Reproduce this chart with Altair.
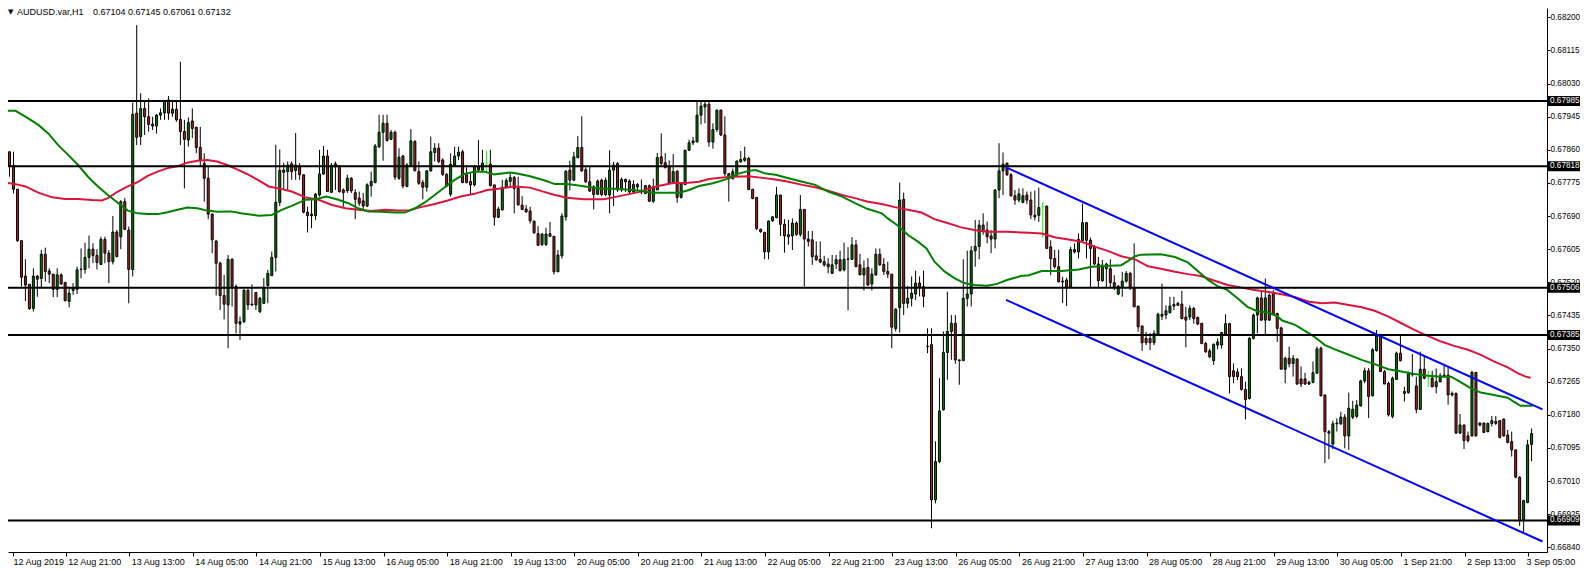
import altair as alt
import pandas as pd

SYMBOL = "AUDUSD.var,H1"

# Hourly candles (open, high, low, close), in order
SEG1 = [
    (.67880, .67888, .67850, .67855), (.67855, .67855, .67791, .67819), (.67819, .67855, .67748, .67759),
    (.67759, .67759, .67624, .67627), (.67627, .67627, .67509, .67533), (.67536, .67579, .67472, .67513),
    (.67515, .67515, .67449, .67453), (.67453, .67556, .67445, .67536), (.67536, .67539, .67483, .67528),
    (.67530, .67603, .67505, .67592), (.67592, .67609, .67522, .67548), (.67549, .67556, .67518, .67541),
    (.67541, .67541, .67482, .67502), (.67502, .67556, .67482, .67539), (.67539, .67543, .67513, .67516),
    (.67520, .67520, .67471, .67473), (.67471, .67509, .67456, .67492), (.67499, .67518, .67488, .67505),
    (.67502, .67560, .67490, .67552), (.67554, .67607, .67530, .67553), (.67553, .67622, .67542, .67584),
    (.67584, .67640, .67556, .67605), (.67605, .67620, .67569, .67589), (.67589, .67605, .67553, .67571),
    (.67566, .67637, .67565, .67630), (.67630, .67637, .67569, .67595), (.67595, .67603, .67518, .67573),
    (.67573, .67690, .67566, .67649), (.67649, .67654, .67584, .67586), (.67637, .67731, .67605, .67727),
    (.67727, .67736, .67654, .67656), (.67654, .67663, .67466, .67553), (.67553, .67981, .67535, .67951),
    (.67954, .68180, .67872, .67892), (.67894, .68005, .67872, .67966), (.67966, .67984, .67898, .67945),
    (.67945, .67992, .67907, .67925), (.67926, .67945, .67911, .67921), (.67921, .67952, .67902, .67949),
    (.67949, .67966, .67937, .67955), (.67955, .67988, .67937, .67984), (.67988, .67998, .67937, .67954),
    (.67954, .67988, .67945, .67964), (.67964, .67988, .67932, .67937), (.67938, .68086, .67872, .67907),
    (.67907, .67937, .67761, .67887), (.67885, .67943, .67868, .67930), (.67934, .67966, .67890, .67915),
    (.67918, .67919, .67851, .67866), (.67866, .67919, .67817, .67834), (.67825, .67851, .67727, .67787),
    (.67787, .67817, .67682, .67695), (.67695, .67697, .67595, .67629), (.67626, .67629, .67486, .67569),
    (.67569, .67573, .67449, .67486), (.67486, .67539, .67425, .67464), (.67462, .67590, .67351, .67579),
    (.67579, .67582, .67458, .67509), (.67509, .67515, .67389, .67415), (.67413, .67432, .67372, .67419),
    (.67419, .67502, .67415, .67500), (.67500, .67502, .67449, .67462), (.67462, .67515, .67459, .67464),
    (.67494, .67494, .67449, .67462),
]
SEG2 = [
    (.67445, .67483, .67441, .67479), (.67466, .67531, .67466, .67507), (.67512, .67552, .67466, .67543),
    (.67537, .67599, .67537, .67584), (.67584, .67873, .67548, .67725), (.67725, .67861, .67716, .67807),
    (.67808, .67827, .67759, .67802), (.67804, .67830, .67757, .67821), (.67824, .67830, .67783, .67804),
    (.67807, .67903, .67783, .67821), (.67817, .67826, .67783, .67796), (.67796, .67796, .67697, .67700),
    (.67700, .67714, .67648, .67691), (.67695, .67731, .67659, .67691), (.67691, .67749, .67680, .67746),
    (.67744, .67860, .67740, .67798), (.67798, .67870, .67796, .67844), (.67844, .67860, .67753, .67753),
    (.67751, .67826, .67749, .67820), (.67816, .67830, .67757, .67824), (.67819, .67821, .67750, .67753),
    (.67757, .67761, .67714, .67750), (.67755, .67796, .67749, .67787), (.67787, .67790, .67749, .67755),
    (.67750, .67759, .67682, .67733), (.67736, .67753, .67716, .67723), (.67729, .67749, .67706, .67716),
    (.67716, .67774, .67713, .67770), (.67768, .67804, .67740, .67779), (.67776, .67875, .67774, .67870),
    (.67868, .67950, .67864, .67905), (.67905, .67950, .67832, .67928), (.67928, .67950, .67881, .67884),
    (.67887, .67911, .67885, .67905), (.67905, .67909, .67783, .67790), (.67787, .67864, .67783, .67841),
    (.67844, .67847, .67761, .67767), (.67766, .67826, .67764, .67821), (.67819, .67913, .67817, .67883),
    (.67881, .67885, .67806, .67806), (.67804, .67830, .67770, .67774), (.67776, .67783, .67733, .67764),
    (.67764, .67808, .67753, .67806), (.67806, .67894, .67804, .67855), (.67853, .67877, .67830, .67864),
    (.67864, .67877, .67826, .67830), (.67834, .67838, .67793, .67797), (.67797, .67800, .67764, .67767),
    (.67746, .67851, .67740, .67823), (.67821, .67868, .67817, .67844), (.67844, .67868, .67834, .67854),
    (.67855, .67860, .67774, .67776), (.67796, .67821, .67774, .67776), (.67779, .67800, .67744, .67770),
    (.67770, .67821, .67766, .67817), (.67817, .67885, .67804, .67808), (.67808, .67860, .67804, .67826),
    (.67826, .67858, .67804, .67826), (.67823, .67860, .67766, .67768), (.67770, .67770, .67665, .67687),
    (.67687, .67714, .67685, .67708), (.67706, .67783, .67704, .67764), (.67764, .67787, .67761, .67781),
    (.67779, .67800, .67766, .67789), (.67789, .67793, .67697, .67761), (.67761, .67791, .67716, .67719),
]
SEG3 = [
    (.67718, .67741, .67705, .67707), (.67708, .67718, .67698, .67701), (.67703, .67714, .67671, .67678),
    (.67677, .67678, .67645, .67647), (.67645, .67664, .67613, .67615), (.67617, .67645, .67613, .67644),
    (.67617, .67660, .67613, .67644), (.67645, .67675, .67637, .67638), (.67638, .67638, .67540, .67547),
    (.67547, .67603, .67547, .67590), (.67588, .67697, .67581, .67690), (.67688, .67808, .67678, .67805),
    (.67808, .67832, .67756, .67782), (.67782, .67855, .67780, .67842), (.67840, .67895, .67838, .67866),
    (.67866, .67946, .67804, .67806), (.67809, .67815, .67775, .67778), (.67778, .67816, .67752, .67754),
    (.67765, .67769, .67707, .67745), (.67746, .67784, .67744, .67780), (.67782, .67786, .67741, .67745),
    (.67745, .67789, .67741, .67782), (.67744, .67859, .67697, .67808), (.67808, .67829, .67716, .67821),
    (.67825, .67829, .67752, .67757), (.67757, .67789, .67752, .67784), (.67784, .67786, .67752, .67778),
    (.67780, .67784, .67748, .67752), (.67752, .67782, .67748, .67771), (.67771, .67775, .67757, .67765),
    (.67752, .67784, .67746, .67753), (.67748, .67769, .67746, .67768), (.67768, .67771, .67727, .67728),
    (.67728, .67786, .67724, .67765), (.67757, .67852, .67757, .67840), (.67842, .67902, .67821, .67825),
    (.67827, .67851, .67812, .67815), (.67816, .67833, .67775, .67775), (.67774, .67849, .67772, .67804),
    (.67805, .67808, .67724, .67738), (.67738, .67772, .67735, .67772), (.67771, .67859, .67769, .67859),
    (.67859, .67886, .67857, .67878), (.67878, .67893, .67872, .67883), (.67880, .67983, .67880, .67949),
    (.67949, .67983, .67925, .67972), (.67970, .67983, .67928, .67977), (.67977, .67983, .67868, .67880),
    (.67880, .67928, .67863, .67912), (.67912, .67963, .67906, .67962), (.67962, .67963, .67895, .67898),
    (.67898, .67946, .67792, .67799), (.67799, .67799, .67727, .67786), (.67786, .67812, .67784, .67804),
    (.67795, .67833, .67791, .67831), (.67829, .67857, .67827, .67835), (.67833, .67868, .67829, .67839),
    (.67838, .67842, .67757, .67758), (.67759, .67759, .67733, .67735), (.67738, .67739, .67654, .67658),
    (.67656, .67658, .67647, .67650), (.67648, .67650, .67579, .67598), (.67598, .67679, .67579, .67677),
    (.67678, .67690, .67675, .67688),
]
SEG4 = [
    (.67686, .67765, .67684, .67744), (.67744, .67744, .67639, .67669), (.67669, .67682, .67596, .67639),
    (.67642, .67680, .67616, .67637), (.67639, .67684, .67603, .67672), (.67672, .67676, .67639, .67643),
    (.67643, .67744, .67637, .67707), (.67707, .67707, .67509, .67631), (.67631, .67652, .67612, .67625),
    (.67629, .67652, .67565, .67586), (.67588, .67625, .67575, .67578), (.67579, .67625, .67569, .67572),
    (.67565, .67588, .67560, .67573), (.67567, .67582, .67543, .67560), (.67543, .67590, .67542, .67565),
    (.67567, .67590, .67554, .67578), (.67578, .67601, .67548, .67550), (.67552, .67622, .67548, .67579),
    (.67579, .67610, .67448, .67580), (.67579, .67636, .67577, .67616), (.67616, .67629, .67560, .67560),
    (.67565, .67593, .67539, .67539), (.67539, .67576, .67499, .67556), (.67558, .67582, .67511, .67513),
    (.67516, .67556, .67499, .67541), (.67539, .67607, .67537, .67592), (.67592, .67607, .67562, .67565),
    (.67566, .67582, .67539, .67548), (.67548, .67573, .67531, .67541), (.67541, .67541, .67351, .67405),
    (.67401, .67454, .67394, .67451), (.67455, .67776, .67391, .67731), (.67733, .67750, .67436, .67466),
    (.67466, .67511, .67454, .67479), (.67479, .67535, .67458, .67492), (.67490, .67550, .67475, .67518),
    (.67518, .67535, .67484, .67509), (.67509, .67550, .67456, .67484), (.67356, .67402, .67338, .67355),
    (.67360, .67402, .66889, .66962), (.66962, .67112, .66953, .67060), (.67060, .67274, .67056, .67190),
    (.67193, .67394, .67191, .67340), (.67340, .67496, .67270, .67394), (.67394, .67436, .67321, .67415),
    (.67415, .67436, .67311, .67321), (.67321, .67321, .67257, .67319), (.67319, .67579, .67319, .67479),
    (.67479, .67601, .67458, .67490), (.67490, .67613, .67458, .67601), (.67601, .67680, .67560, .67612),
    (.67612, .67680, .67579, .67667), (.67667, .67697, .67642, .67650), (.67654, .67676, .67620, .67637),
    (.67639, .67654, .67595, .67631), (.67631, .67759, .67607, .67757), (.67757, .67877, .67736, .67806),
    (.67806, .67853, .67744, .67823), (.67826, .67826, .67793, .67796), (.67796, .67800, .67740, .67742),
    (.67742, .67757, .67719, .67731), (.67731, .67761, .67725, .67747), (.67725, .67761, .67723, .67742),
    (.67744, .67753, .67721, .67731),
]
SEG5 = [
    (.67731, .67753, .67682, .67693), (.67692, .67756, .67679, .67688), (.67692, .67763, .67675, .67712),
    (.67714, .67726, .67635, .67714), (.67715, .67718, .67607, .67607), (.67611, .67628, .67538, .67581),
    (.67581, .67603, .67555, .67560), (.67560, .67604, .67521, .67521), (.67523, .67534, .67467, .67521),
    (.67526, .67532, .67459, .67508), (.67508, .67611, .67507, .67604), (.67604, .67620, .67594, .67598),
    (.67598, .67645, .67581, .67630), (.67627, .67722, .67624, .67673), (.67673, .67675, .67581, .67628),
    (.67628, .67635, .67508, .67607), (.67611, .67615, .67564, .67567), (.67567, .67585, .67507, .67524),
    (.67524, .67577, .67521, .67564), (.67555, .67570, .67508, .67567), (.67555, .67579, .67508, .67519),
    (.67519, .67538, .67500, .67507), (.67490, .67513, .67487, .67510), (.67507, .67547, .67483, .67523),
    (.67523, .67549, .67519, .67543), (.67543, .67547, .67500, .67508), (.67507, .67620, .67457, .67457),
    (.67459, .67459, .67393, .67406), (.67408, .67408, .67344, .67365), (.67376, .67393, .67359, .67365),
    (.67376, .67390, .67346, .67365), (.67365, .67397, .67359, .67389), (.67387, .67442, .67385, .67438),
    (.67433, .67517, .67423, .67438), (.67436, .67461, .67425, .67447), (.67442, .67483, .67440, .67459),
    (.67459, .67483, .67449, .67463), (.67461, .67470, .67459, .67466), (.67464, .67498, .67425, .67427),
    (.67431, .67457, .67353, .67423), (.67431, .67461, .67423, .67453), (.67453, .67457, .67414, .67427),
    (.67430, .67432, .67410, .67413), (.67415, .67415, .67361, .67363), (.67363, .67367, .67339, .67342),
    (.67344, .67350, .67325, .67329), (.67319, .67363, .67308, .67361), (.67359, .67376, .67348, .67367),
    (.67359, .67393, .67350, .67391), (.67387, .67438, .67385, .67414), (.67414, .67416, .67235, .67278),
    (.67293, .67312, .67261, .67278), (.67290, .67299, .67269, .67278), (.67278, .67299, .67242, .67245),
    (.67245, .67265, .67168, .67219), (.67222, .67380, .67219, .67376), (.67376, .67440, .67373, .67436),
    (.67436, .67483, .67389, .67480), (.67480, .67500, .67421, .67423), (.67423, .67530, .67387, .67480),
    (.67487, .67491, .67421, .67423), (.67491, .67500, .67438, .67438), (.67440, .67442, .67367, .67402),
    (.67403, .67406, .67297, .67297),
]
SEG6 = [
    (.67297, .67329, .67261, .67325), (.67325, .67355, .67302, .67311), (.67312, .67334, .67278, .67325),
    (.67323, .67325, .67257, .67259), (.67272, .67304, .67251, .67259), (.67272, .67288, .67257, .67259),
    (.67259, .67268, .67257, .67263), (.67263, .67317, .67261, .67288), (.67287, .67355, .67285, .67349),
    (.67351, .67355, .67227, .67229), (.67231, .67231, .67056, .67137), (.67137, .67141, .67066, .67133),
    (.67105, .67165, .67092, .67157), (.67157, .67171, .67137, .67159), (.67157, .67188, .67154, .67174),
    (.67174, .67182, .67094, .67126), (.67126, .67237, .67090, .67197), (.67174, .67216, .67169, .67194),
    (.67176, .67218, .67171, .67205), (.67203, .67270, .67201, .67267), (.67267, .67301, .67261, .67293),
    (.67293, .67300, .67172, .67227), (.67229, .67351, .67227, .67347), (.67345, .67398, .67342, .67382),
    (.67382, .67385, .67291, .67291), (.67291, .67295, .67259, .67259), (.67261, .67265, .67176, .67180),
    (.67176, .67278, .67171, .67274), (.67271, .67342, .67270, .67338), (.67338, .67382, .67317, .67319),
    (.67240, .67252, .67214, .67235), (.67237, .67291, .67234, .67285), (.67285, .67336, .67278, .67283),
    (.67254, .67278, .67184, .67194), (.67194, .67342, .67193, .67297), (.67297, .67329, .67271, .67274),
    (.67274, .67293, .67252, .67274), (.67274, .67293, .67251, .67252), (.67252, .67299, .67235, .67265),
    (.67265, .67287, .67263, .67280), (.67278, .67306, .67276, .67282), (.67282, .67304, .67206, .67231),
    (.67235, .67240, .67227, .67231), (.67235, .67237, .67131, .67133), (.67133, .67182, .67131, .67154),
    (.67154, .67154, .67092, .67114), (.67126, .67137, .67109, .67114), (.67126, .67293, .67124, .67289),
    (.67289, .67289, .67124, .67126), (.67154, .67160, .67150, .67159), (.67159, .67160, .67133, .67135),
    (.67137, .67160, .67135, .67158), (.67158, .67177, .67150, .67165), (.67163, .67177, .67154, .67158),
    (.67165, .67167, .67120, .67122), (.67169, .67171, .67124, .67126), (.67128, .67141, .67107, .67109),
    (.67111, .67137, .67073, .67090), (.67090, .67090, .67017, .67020), (.67020, .67022, .66895, .66910),
    (.66912, .66962, .66878, .66960), (.66955, .67116, .66953, .67103), (.67104, .67145, .67061, .67132),
]

# Moving averages: (bar position, value)
GREEN_MA = [
    (0, .67960), (2.5, .67960), (5, .67945), (8.25, .67924), (10.75, .67902), (13.25, .67872), (15.75, .67847),
    (18.25, .67821), (20.75, .67791), (23.25, .67766), (25.75, .67744), (28.25, .67724), (30.75, .67704),
    (33.25, .67697), (35.75, .67695), (38.25, .67695), (40.75, .67700), (43.25, .67706), (45.75, .67712),
    (48.25, .67710), (50.75, .67704), (53.25, .67701), (56.75, .67702), (59.25, .67697), (62.5, .67693),
    (63.75, .67691), (67, .67693), (69.5, .67706), (72, .67716), (75.5, .67732), (78, .67733), (80.75, .67740),
    (83.75, .67732), (86.25, .67723), (88.75, .67710), (91.25, .67702), (94.5, .67701), (98, .67699),
    (100.5, .67699), (103, .67710), (105.5, .67725), (108, .67744), (110.5, .67764), (113, .67783),
    (115.5, .67798), (118, .67804), (120.5, .67804), (123, .67797), (125.5, .67800), (127, .67802),
    (128.75, .67799), (132, .67792), (135.5, .67782), (138.25, .67772), (141.25, .67772), (143.75, .67769),
    (146.25, .67765), (149.5, .67761), (153, .67760), (156.25, .67758), (159.5, .67755), (163, .67750),
    (166.25, .67750), (169.5, .67750), (172, .67757), (174.5, .67767), (178, .67774), (181.25, .67784),
    (184.5, .67799), (187, .67806), (188.75, .67808), (191.25, .67799), (193.75, .67796), (197, .67787),
    (200.5, .67778), (203.75, .67770), (207, .67753), (210.5, .67740), (213.75, .67723), (217, .67708),
    (220.5, .67697), (222, .67684), (224.5, .67666), (227, .67642), (229.5, .67625), (231.75, .67607),
    (233.75, .67573), (236.25, .67548), (238.75, .67531), (241.25, .67518), (243.75, .67513), (247, .67511),
    (249.5, .67516), (252, .67526), (255.5, .67536), (257.5, .67538), (260.75, .67549), (265.75, .67549),
    (270, .67553), (273.25, .67560), (276.75, .67562), (280.75, .67564), (282.5, .67575), (284.25, .67587),
    (285.75, .67591), (290.75, .67592), (294.25, .67585), (297.5, .67571), (300, .67549), (302.5, .67527),
    (305, .67510), (307.5, .67500), (310, .67479), (312.5, .67457), (315, .67446), (317.5, .67443),
    (320, .67433), (321.25, .67422), (324.5, .67411), (328, .67389), (329.5, .67379), (332, .67359),
    (334.5, .67348), (338, .67334), (341.25, .67321), (344.5, .67310), (348, .67297), (351.25, .67291),
    (354.5, .67285), (358, .67280), (361.25, .67278), (363.75, .67278), (366.25, .67263), (368.75, .67248),
    (371.25, .67237), (374.5, .67231), (378, .67224), (379.5, .67214), (381.25, .67203), (384.25, .67203),
]
RED_MA = [
    (0, .67776), (2.5, .67772), (5, .67766), (8.25, .67750), (11.75, .67738), (15, .67734), (18.25, .67734),
    (21.75, .67731), (24.25, .67730), (25.75, .67736), (28.25, .67753), (30.75, .67766), (33.25, .67777),
    (35.75, .67793), (38.25, .67804), (40.75, .67813), (43.25, .67818), (45.75, .67827), (48.25, .67832),
    (50.75, .67834), (53.25, .67830), (55.75, .67821), (58.25, .67810), (60.75, .67798), (63.25, .67784),
    (66.25, .67766), (68.75, .67761), (72, .67753), (75.5, .67738), (78.75, .67732), (82, .67719),
    (85.5, .67710), (88.75, .67706), (92, .67703), (95.5, .67706), (98.75, .67704), (101.25, .67704),
    (104.5, .67713), (108, .67721), (111.25, .67730), (114.5, .67740), (118, .67747), (121.25, .67757),
    (124.5, .67761), (128, .67766), (132, .67763), (135.5, .67752), (138.25, .67744), (141.25, .67737),
    (145.5, .67733), (150.5, .67733), (153, .67738), (156.25, .67745), (159.5, .67752), (162, .67761),
    (164.5, .67768), (168, .67775), (171.25, .67775), (174.5, .67778), (177, .67785), (180.5, .67789),
    (183.75, .67791), (187, .67792), (190.5, .67788), (193.75, .67784), (197, .67778), (200.5, .67770),
    (203.75, .67764), (207, .67755), (210.5, .67744), (213.75, .67736), (217, .67727), (220.5, .67721),
    (223.75, .67713), (227, .67706), (230.5, .67699), (233.75, .67682), (237, .67672), (240.5, .67661),
    (243.75, .67654), (247, .67650), (252, .67650), (255.5, .67648), (257.5, .67647), (260.75, .67645),
    (264.25, .67635), (267.5, .67630), (270.75, .67624), (274.25, .67611), (277.5, .67600), (280.75, .67587),
    (284.25, .67579), (287.5, .67561), (290.75, .67555), (294.25, .67547), (297.5, .67541), (300.75, .67536),
    (304.25, .67524), (307.5, .67513), (310.75, .67507), (314.25, .67500), (317.5, .67496), (320.75, .67490),
    (324.5, .67482), (328, .67470), (331.25, .67466), (334.5, .67468), (338, .67462), (341.25, .67456),
    (344.5, .67447), (348, .67432), (351.25, .67415), (354.5, .67398), (358, .67382), (361.25, .67368),
    (364.5, .67357), (368, .67347), (371.25, .67334), (374.5, .67317), (378, .67302), (380.5, .67287),
    (382.5, .67278), (383.75, .67275),
]

# Trend channel (start/end points) and horizontal levels
CHANNEL_UPPER = [(251.75, .67815), (386.75, .67194)]
CHANNEL_LOWER = [(251.75, .67475), (386.75, .66855)]
LEVELS = [0.67985, 0.67818, 0.67506, 0.67385, 0.66909]

Y_TICKS = [0.68200, 0.68115, 0.68030, 0.67945, 0.67860, 0.67775, 0.67690, 0.67605, 0.67520,
           0.67435, 0.67350, 0.67265, 0.67180, 0.67095, 0.67010, 0.66925, 0.66840]
# time-axis marks sit a little to the left of their bar, as in the terminal
X_TICKS = [2, 15.125, 31.125, 47.125, 63.125, 79.125, 95.125, 111.125, 127.125, 143.125,
           159.125, 175.125, 191.125, 207.125, 223.125, 239.125, 255.125, 271.125, 287.125,
           303.125, 319.125, 335.125, 351.125, 367.125, 383.125]
X_LABELS = ["12 Aug 2019", "12 Aug 21:00", "13 Aug 13:00", "14 Aug 05:00", "14 Aug 21:00",
            "15 Aug 13:00", "16 Aug 05:00", "18 Aug 21:00", "19 Aug 13:00", "20 Aug 05:00",
            "20 Aug 21:00", "21 Aug 13:00", "22 Aug 05:00", "22 Aug 21:00", "23 Aug 13:00",
            "26 Aug 05:00", "26 Aug 21:00", "27 Aug 13:00", "28 Aug 05:00", "28 Aug 21:00",
            "29 Aug 13:00", "30 Aug 05:00", "1 Sep 21:00", "2 Sep 13:00", "3 Sep 05:00"]

FONT = "Liberation Sans"
W, H = 1539, 544

candles = SEG1 + SEG2 + SEG3 + SEG4 + SEG5 + SEG6
rows = []
for i, (o, h, l, c) in enumerate(candles):
    kind = "doji" if o == c else ("up" if c > o else "down")
    rows.append(dict(i=i, o=o, c=c, h=max(h, o, c), l=min(l, o, c),
                     lo=min(o, c), hi=max(o, c), kind=kind))
cdf = pd.DataFrame(rows)

green_df = pd.DataFrame(GREEN_MA, columns=["i", "v"])
red_df = pd.DataFrame(RED_MA, columns=["i", "v"])
ch_df = pd.DataFrame([(a, b, "up") for a, b in CHANNEL_UPPER] + [(a, b, "lo") for a, b in CHANNEL_LOWER],
                     columns=["i", "v", "line"])
lev_df = pd.DataFrame({"v": LEVELS, "lab": [f"{v:.5f}" for v in LEVELS]})
last = candles[-1]
head_df = pd.DataFrame({"t": [f"{last[0]:.5f} {last[1]:.5f} {last[2]:.5f} {last[3]:.5f}"],
                        "s": [SYMBOL]})

xscale = alt.Scale(domain=[1.875, 386.625], nice=False, zero=False)
yscale = alt.Scale(domain=[0.66828, 0.682239], nice=False, zero=False)

label_expr = "[" + ",".join("'" + s + "'" for s in X_LABELS) + "][round(datum.value/16)]"
x_axis = alt.Axis(values=X_TICKS, labelExpr=label_expr, orient="bottom", grid=False, title=None,
                  domainColor="black", domainWidth=1, tickColor="black", tickSize=4, tickWidth=1,
                  labelAlign="left", labelBaseline="top",
                  labelOffset={"condition": [{"test": "datum.value > 380", "value": -2},
                                             {"test": "datum.value < 5", "value": -0.5}],
                               "value": 2},
                  labelPadding=1, labelFont=FONT, labelFontSize=9, labelColor="black",
                  labelOverlap=False, labelFlush=False, labelBound=False)
y_axis = alt.Axis(values=Y_TICKS, format=".5f", orient="right", grid=False, title=None,
                  domainColor="black", domainWidth=1, tickColor="black", tickSize=3, tickWidth=1,
                  labelPadding=0, labelFont=FONT, labelFontSize=8.2, labelColor="black",
                  labelOverlap=False, labelFlush=False, labelBound=False)


def X(field):
    return alt.X(field, type="quantitative", scale=xscale, axis=x_axis)


def Y(field):
    return alt.Y(field, type="quantitative", scale=yscale, axis=y_axis)


stroke_scale = alt.Scale(domain=["up", "down", "doji"], range=["black", "black", "#00FF00"])
fill_scale = alt.Scale(domain=["up", "down", "doji"], range=["#008000", "#B22222", "#00FF00"])

base = alt.Chart(cdf)
wicks = base.mark_rule(strokeWidth=1, clip=True).encode(
    x=X("i"), y=Y("l"), y2="h:Q",
    stroke=alt.Stroke("kind:N", scale=stroke_scale, legend=None),
)
bodies = base.mark_bar(size=2, strokeWidth=1, clip=True).encode(
    x=X("i"), y=Y("lo"), y2="hi:Q",
    fill=alt.Fill("kind:N", scale=fill_scale, legend=None),
    stroke=alt.Stroke("kind:N", scale=stroke_scale, legend=None),
).transform_filter("datum.kind != 'doji'")
dojis = base.mark_tick(orient="horizontal", size=3, thickness=1, color="#00FF00", clip=True).encode(
    x=X("i"), y=Y("c"),
).transform_filter("datum.kind == 'doji'")

red_line = alt.Chart(red_df).mark_line(color="#DC143C", strokeWidth=2, clip=True).encode(
    x=X("i"), y=Y("v"))
green_line = alt.Chart(green_df).mark_line(color="#008000", strokeWidth=2, clip=True).encode(
    x=X("i"), y=Y("v"))

levels = alt.Chart(lev_df).mark_rule(color="black", strokeWidth=2, clip=True).encode(y=Y("v"))
channel = alt.Chart(ch_df).mark_line(color="#0000FF", strokeWidth=2, clip=True).encode(
    x=X("i"), y=Y("v"), detail="line:N")

lev_box = alt.Chart(lev_df).mark_tick(orient="horizontal", size=38, thickness=10, color="black",
                                      opacity=1).encode(
    x=alt.value(W + 20), y=Y("v"))
lev_txt = alt.Chart(lev_df).mark_text(align="left", baseline="middle", color="white",
                                      font=FONT, fontSize=8.2).encode(
    x=alt.value(W + 3), y=Y("v"), text="lab:N")

head_tri = alt.Chart(head_df).mark_text(align="left", baseline="middle", color="black",
                                        font="DejaVu Sans", fontSize=7).encode(
    x=alt.value(0), y=alt.value(4), text=alt.value("▼"))
head_sym = alt.Chart(head_df).mark_text(align="left", baseline="middle", color="black",
                                        font=FONT, fontSize=9).encode(
    x=alt.value(9), y=alt.value(4), text="s:N")
head_val = alt.Chart(head_df).mark_text(align="left", baseline="middle", color="black",
                                        font=FONT, fontSize=9).encode(
    x=alt.value(85), y=alt.value(4), text="t:N")

chart = alt.layer(
    wicks, bodies, dojis, red_line, green_line, levels, channel,
    lev_box, lev_txt, head_tri, head_sym, head_val,
).properties(
    width=W, height=H,
    autosize=alt.AutoSizeParams(type="none"),
    padding={"left": 0, "top": 0, "right": 33, "bottom": 16},
    background="white",
).configure_view(stroke=None)

chart.save("out.html", embed_options={"renderer": "svg", "actions": False})
